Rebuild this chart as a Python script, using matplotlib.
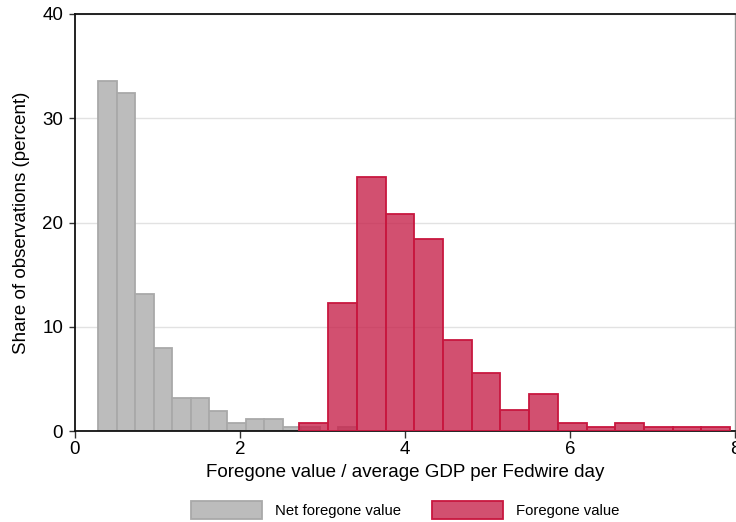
import numpy as np
import matplotlib
matplotlib.use("Agg")
import matplotlib.pyplot as plt
from matplotlib.patches import Patch

plt.rcParams['font.family'] = ['Liberation Sans', 'DejaVu Sans']

# Net foregone value histogram (percent of observations)
net_start = 0.282
net_width = 0.2237
net_values = [33.56, 32.4, 13.1, 7.93, 3.13, 3.13, 1.95, 0.73, 1.12, 1.12, 0.35, 0.35, 0.0, 0.35]

# Foregone value histogram (percent of observations)
fv_start = 2.72
fv_width = 0.348
fv_values = [0.73, 12.3, 24.4, 20.8, 18.4, 8.75, 5.53, 1.98, 3.52, 0.73, 0.35, 0.73, 0.35, 0.35, 0.35]

x_ticks = [0, 2, 4, 6, 8]
y_ticks = [0, 10, 20, 30, 40]

fig = plt.figure(figsize=(7.36, 5.22), dpi=100)
ax = fig.add_axes([75/736, 1-431/522, 660/736, (431-14)/522])

net_left = net_start + net_width*np.arange(len(net_values))
fv_left = fv_start + fv_width*np.arange(len(fv_values))

gray_fc = '#bcbcbc'
gray_ec = '#a9a9a9'
red_fc = (199/255, 36/255, 76/255, 0.8)
red_ec = '#c8173f'

ax.bar(net_left, net_values, width=net_width, align='edge',
       color=gray_fc, edgecolor=gray_ec, linewidth=1.3, zorder=2)
ax.bar(fv_left, fv_values, width=fv_width, align='edge',
       color=red_fc, edgecolor=red_ec, linewidth=1.3, zorder=3)

ax.set_xlim(0, 8)
ax.set_ylim(0, 40)
ax.set_xticks(x_ticks)
ax.set_yticks(y_ticks)
ax.tick_params(axis='both', labelsize=13.5, length=4.5, width=1, color='#333333', direction='out', pad=4)
ax.tick_params(axis='x', pad=2.5, length=5)
ax.set_yticklabels([str(t) for t in y_ticks])
ax.grid(axis='y', color='#e2e2e2', linewidth=1, zorder=0)
ax.set_axisbelow(True)

for s in ['left', 'bottom', 'top']:
    ax.spines[s].set_color('#111111')
    ax.spines[s].set_linewidth(1.3)
ax.spines['right'].set_color('#999999')
ax.spines['right'].set_linewidth(1)

ax.set_xlabel('Foregone value / average GDP per Fedwire day', fontsize=13.5, labelpad=4)
ax.set_ylabel('Share of observations (percent)', fontsize=13.5, labelpad=9)

handles = [Patch(facecolor=gray_fc, edgecolor=gray_ec, linewidth=1.3, label='Net foregone value'),
           Patch(facecolor=red_fc, edgecolor=red_ec, linewidth=1.3, label='Foregone value')]
fig.legend(handles=handles, loc='center', bbox_to_anchor=(405/736, 1-510/522), ncol=2,
           frameon=False, fontsize=10.7, handlelength=4.8, handleheight=1.45,
           handletextpad=0.85, columnspacing=2.1, borderpad=0)

fig.savefig('out.png', dpi=100)
